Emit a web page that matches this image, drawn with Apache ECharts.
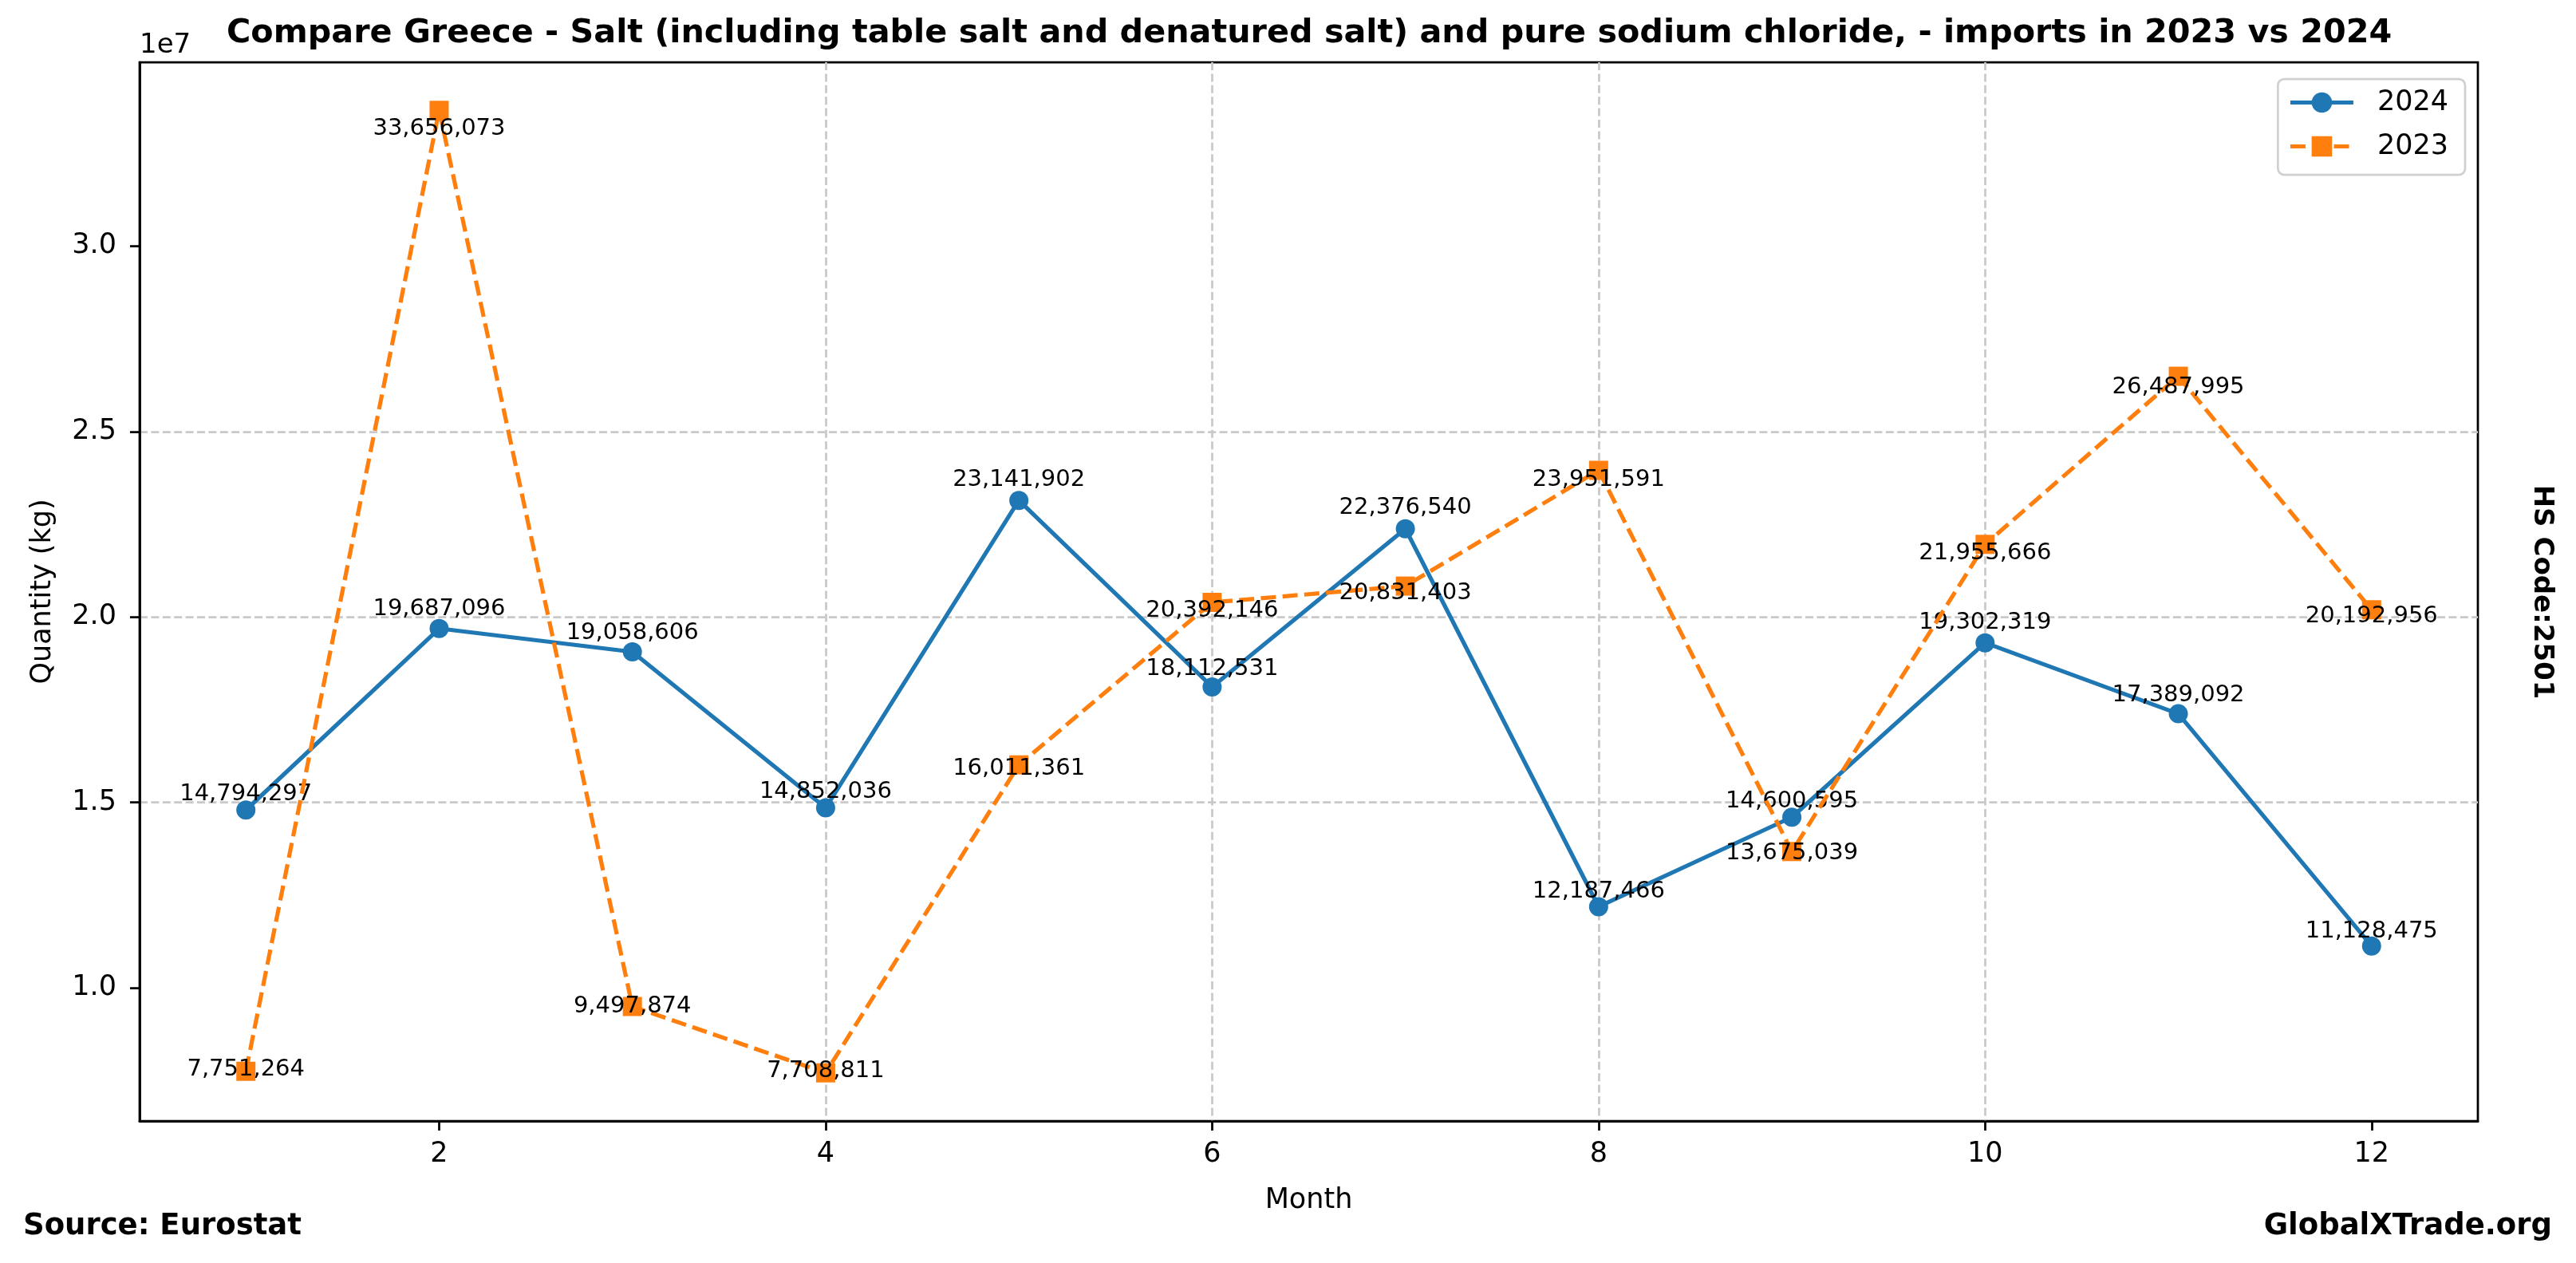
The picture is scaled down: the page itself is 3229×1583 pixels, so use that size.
<!DOCTYPE html>
<html>
<head>
<meta charset="utf-8">
<script src="https://cdn.jsdelivr.net/npm/echarts@6/dist/echarts.min.js"></script>
<style>
html,body{margin:0;padding:0;background:#ffffff;}
#chart{width:3229px;height:1583px;}
</style>
</head>
<body>
<div id="chart"></div>
<script>
// ---- data ----
const months = [1, 2, 3, 4, 5, 6, 7, 8, 9, 10, 11, 12];
const imports2024 = [14794297, 19687096, 19058606, 14852036, 23141902, 18112531, 22376540, 12187466, 14600595, 19302319, 17389092, 11128475];
const imports2023 = [7751264, 33656073, 9497874, 7708811, 16011361, 20392146, 20831403, 23951591, 13675039, 21955666, 26487995, 20192956];
const xTickValues = [2, 4, 6, 8, 10, 12];
const yTickValues = [10000000, 15000000, 20000000, 25000000, 30000000];
const yTickLabels = ['1.0', '1.5', '2.0', '2.5', '3.0'];
// label vertical shifts (px) for value annotations
const labelDy2024 = [-20, -24, -24, -20, -26, -23, -26, -19, -20, -25, -23, -18];
const labelDy2023 = [-2, 23, 0, -2, 5, 10, 9, 12, 2, 11, 14, 8];

const FONT = 'DejaVu Sans';
const allVals = imports2024.concat(imports2023);
const dMin = Math.min.apply(null, allVals), dMax = Math.max.apply(null, allVals);
const yPad = (dMax - dMin) * 0.05;
const xPad = (months[months.length - 1] - months[0]) * 0.05;

function fmt(v) { return Number(v).toLocaleString('en-US'); }

const chart = echarts.init(document.getElementById('chart'), null, {renderer: 'canvas'});

const gridColor = '#c9c9c9';
const option = {
  animation: false,
  backgroundColor: '#ffffff',
  title: {
    text: 'Compare Greece - Salt (including table salt and denatured salt) and pure sodium chloride, - imports in 2023 vs 2024',
    left: 284,
    top: 20,
    padding: 0,
    textStyle: {fontFamily: FONT, fontSize: 41.3, fontWeight: 'bold', color: '#000', lineHeight: 44}
  },
  grid: {
    left: 175, right: 123, top: 78, bottom: 178,
    show: true, borderColor: '#000', borderWidth: 2.75, backgroundColor: 'transparent'
  },
  legend: {
    orient: 'vertical',
    right: 139,
    top: 99,
    itemWidth: 79,
    itemHeight: 32,
    itemGap: 20,
    padding: [12, 21, 18, 13],
    backgroundColor: 'rgba(255,255,255,0.8)',
    borderColor: '#d0d0d0',
    borderWidth: 2.75,
    borderRadius: 8,
    lineStyle: {width: 5.2},
    textStyle: {fontFamily: FONT, fontSize: 35, color: '#000', padding: [0, 0, 0, 25]},
    data: ['2024', '2023']
  },
  xAxis: {
    type: 'value',
    min: months[0] - xPad,
    max: months[months.length - 1] + xPad,
    splitNumber: 6,
    name: 'Month',
    nameLocation: 'middle',
    nameGap: 82,
    nameTextStyle: {fontFamily: FONT, fontSize: 35, color: '#000'},
    axisLine: {show: true, onZero: false, lineStyle: {color: '#000', width: 2.75}},
    axisTick: {show: true, inside: false, length: 12, lineStyle: {color: '#000', width: 2.75}, customValues: xTickValues},
    axisLabel: {
      show: true, margin: 24, fontFamily: FONT, fontSize: 35, color: '#000',
      customValues: xTickValues,
      formatter: function (v) { return xTickValues.indexOf(Math.round(v * 1000) / 1000) >= 0 ? String(Math.round(v)) : ''; }
    },
    splitLine: {show: true, showMinLine: false, showMaxLine: false, lineStyle: {color: gridColor, width: 2.75, type: [10, 4.4]}}
  },
  yAxis: {
    type: 'value',
    min: dMin - yPad,
    max: dMax + yPad,
    splitNumber: 5,
    name: 'Quantity (kg)',
    nameLocation: 'middle',
    nameGap: 104,
    nameTextStyle: {fontFamily: FONT, fontSize: 35, color: '#000'},
    axisLine: {show: true, onZero: false, lineStyle: {color: '#000', width: 2.75}},
    axisTick: {show: true, inside: false, length: 12, lineStyle: {color: '#000', width: 2.75}, customValues: yTickValues},
    axisLabel: {
      show: true, margin: 29, fontFamily: FONT, fontSize: 35, color: '#000',
      customValues: yTickValues,
      formatter: function (v) {
        for (let i = 0; i < yTickValues.length; i++) {
          if (Math.abs(v - yTickValues[i]) < 1) return yTickLabels[i];
        }
        return '';
      }
    },
    splitLine: {show: true, showMinLine: false, showMaxLine: false, lineStyle: {color: gridColor, width: 2.75, type: [10, 4.4]}}
  },
  series: [
    {
      name: '2024',
      type: 'line',
      symbol: 'circle',
      symbolSize: 24,
      color: '#1f77b4',
      lineStyle: {color: '#1f77b4', width: 5.2, type: 'solid'},
      itemStyle: {color: '#1f77b4'},
      emphasis: {disabled: true},
      z: 2,
      label: {
        show: true, position: 'inside', fontFamily: FONT, fontSize: 29, color: '#000',
        formatter: function (p) { return fmt(p.value[1]); }
      },
      data: months.map(function (m, i) {
        return {value: [m, imports2024[i]], label: {offset: [0, labelDy2024[i]]}};
      })
    },
    {
      name: '2023',
      type: 'line',
      symbol: 'rect',
      symbolSize: 24,
      color: '#ff7f0e',
      lineStyle: {color: '#ff7f0e', width: 5.2, type: [19, 8.3]},
      itemStyle: {color: '#ff7f0e'},
      emphasis: {disabled: true},
      z: 3,
      label: {
        show: true, position: 'inside', fontFamily: FONT, fontSize: 29, color: '#000',
        formatter: function (p) { return fmt(p.value[1]); }
      },
      data: months.map(function (m, i) {
        return {value: [m, imports2023[i]], label: {offset: [0, labelDy2023[i]]}};
      })
    }
  ],
  graphic: [
    {type: 'text', x: 175, y: 57, z: 100,
     style: {text: '1e7', fontFamily: FONT, fontSize: 34, fill: '#000', align: 'left', verticalAlign: 'middle'}},
    {type: 'text', x: 29, y: 1537, z: 100,
     style: {text: 'Source: Eurostat', fontFamily: FONT, fontSize: 37, fontWeight: 'bold', fill: '#000', align: 'left', verticalAlign: 'middle'}},
    {type: 'text', x: 3199, y: 1537, z: 100,
     style: {text: 'GlobalXTrade.org', fontFamily: FONT, fontSize: 37, fontWeight: 'bold', fill: '#000', align: 'right', verticalAlign: 'middle'}},
    {type: 'text', x: 3186, y: 742, z: 100, rotation: -Math.PI / 2,
     style: {text: 'HS Code:2501', fontFamily: FONT, fontSize: 34, fontWeight: 'bold', fill: '#000', align: 'center', verticalAlign: 'middle'}}
  ]
};
chart.setOption(option);
</script>
</body>
</html>
